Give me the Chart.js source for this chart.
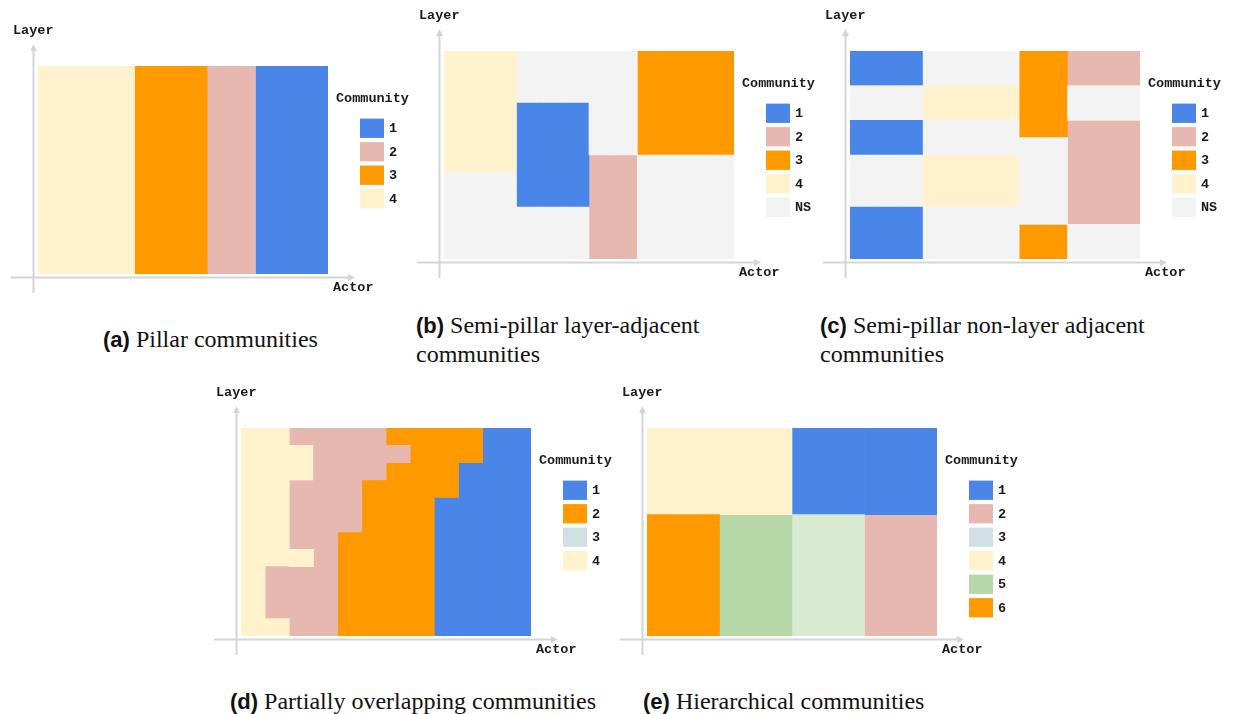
<!DOCTYPE html>
<html>
<head>
<meta charset="utf-8">
<script src="https://cdn.jsdelivr.net/npm/chart.js@4.4.1/dist/chart.umd.min.js"></script>
<style>
  body { margin: 0; width: 1235px; height: 714px; background: #fff; overflow: hidden; position: relative; }
  canvas { position: absolute; }
  .cap { position: absolute; font-family: "Liberation Serif", serif; font-size: 24px; line-height: 29px; color: #111; white-space: nowrap; }
  .cap b { font-family: "Liberation Sans", sans-serif; font-weight: bold; font-size: 22px; }
</style>
</head>
<body>
<canvas id="pa" width="420" height="278" style="left:8px;top:21px"></canvas>
<canvas id="pb" width="420" height="278" style="left:414px;top:6px"></canvas>
<canvas id="pc" width="420" height="278" style="left:820px;top:6px"></canvas>
<canvas id="pd" width="420" height="278" style="left:211px;top:383px"></canvas>
<canvas id="pe" width="420" height="278" style="left:617px;top:383px"></canvas>

<div class="cap" style="left:103px;top:325px"><b>(a)</b> Pillar communities</div>
<div class="cap" style="left:416px;top:311px"><b>(b)</b> Semi-pillar layer-adjacent<br>communities</div>
<div class="cap" style="left:820px;top:311px"><b>(c)</b> Semi-pillar non-layer adjacent<br>communities</div>
<div class="cap" style="left:230px;top:687px"><b>(d)</b> Partially overlapping communities</div>
<div class="cap" style="left:643px;top:687px"><b>(e)</b> Hierarchical communities</div>

<script>
// actors along x, one column each
const actors = ['1', '2', '3', '4', '5', '6', '7', '8', '9', '10', '11', '12'];

// community of every (layer, actor) cell, top layer first; N = not in a community
const gridA = [
  '4444 333 22 111'
];
const gridB = [
  '444 NNN NN 3333',
  '444 NNN NN 3333',
  '444 NNN NN 3333',
  '444 111 NN 3333',
  '444 111 NN 3333',
  '444 111 NN 3333',
  '444 111 22 NNNN',
  'NNN 111 22 NNNN',
  'NNN 111 22 NNNN',
  'NNN NNN 22 NNNN',
  'NNN NNN 22 NNNN',
  'NNN NNN 22 NNNN'
];
const gridC = [
  '111 NNNN 33 222',
  '111 NNNN 33 222',
  'NNN 4444 33 NNN',
  'NNN 4444 33 NNN',
  '111 NNNN 33 222',
  '111 NNNN NN 222',
  'NNN 4444 NN 222',
  'NNN 4444 NN 222',
  'NNN 4444 NN 222',
  '111 NNNN NN 222',
  '111 NNNN 33 NNN',
  '111 NNNN 33 NNN'
];
// P = overlap zone between communities 4 and 2
const gridD = [
  '44PPPP222211',
  '444PPPP22211',
  '444PPP222111',
  '44PPP2222111',
  '44PPP2221111',
  '44PPP2221111',
  '44PP22221111',
  '444P22221111',
  '4PPP22221111',
  '4PPP22221111',
  '4PPP22221111',
  '44PP22221111'
];
const gridE = [
  '444444 111111',
  '444444 111111',
  '444444 111111',
  '444444 111111',
  '444444 111111',
  '666 555 LLL 222',
  '666 555 LLL 222',
  '666 555 LLL 222',
  '666 555 LLL 222',
  '666 555 LLL 222',
  '666 555 LLL 222',
  '666 555 LLL 222'
];

const keysA = ['1', '2', '3', '4'];
const keysB = ['1', '2', '3', '4', 'NS'];
const keysC = ['1', '2', '3', '4', 'NS'];
const keysD = ['1', '2', '3', '4'];
const keysE = ['1', '2', '3', '4', '5', '6'];

const BLUE = '#4a86e8', PINK = '#e6b8af', ORANGE = '#ff9900', CREAM = '#fff2cc', GREY = '#f3f3f3';
const palA = { '1': BLUE, '2': PINK, '3': ORANGE, '4': CREAM };
const palB = { '1': BLUE, '2': PINK, '3': ORANGE, '4': CREAM, 'N': GREY, 'NS': GREY };
const palD = { '1': BLUE, '2': ORANGE, '3': '#d0e0e3', '4': CREAM, 'P': PINK };
const palE = { '1': BLUE, '2': PINK, '3': '#d0e0e3', '4': CREAM, '5': '#b6d7a8', '6': ORANGE, 'L': '#d9ead3' };

// one floating bar per run of equal cells in each actor column
function buildDatasets(rawGrid, pal) {
  const grid = rawGrid.map(s => s.replace(/ /g, ''));
  const rows = grid.length, cols = grid[0].length;
  const sets = {};
  for (let c = 0; c < cols; c++) {
    const seen = {};
    let r = rows - 1;
    while (r >= 0) {
      const code = grid[r][c];
      let top = r;
      while (top - 1 >= 0 && grid[top - 1][c] === code) top--;
      seen[code] = (seen[code] || 0) + 1;
      const key = code + '_' + seen[code];
      if (!sets[key]) {
        sets[key] = {
          label: key,
          data: new Array(cols).fill(null),
          backgroundColor: pal[code],
          grouped: false,
          barPercentage: 1,
          categoryPercentage: 1,
          borderWidth: 0
        };
      }
      sets[key].data[c] = [rows - 1 - r, rows - top];
      r = top - 1;
    }
  }
  return Object.values(sets);
}

const axesAndKey = {
  id: 'axesAndKey',
  afterDraw(chart, args, opts) {
    const ctx = chart.ctx, a = chart.chartArea;
    ctx.save();
    ctx.strokeStyle = '#d5d5d5';
    ctx.fillStyle = '#d5d5d5';
    ctx.lineWidth = 2;
    const ax = a.left - 4.5, ay = a.bottom + 3.5;
    const yTip = a.top - 22, xTip = a.right + 27;
    ctx.beginPath();
    ctx.moveTo(ax, a.bottom + 19);
    ctx.lineTo(ax, yTip + 5);
    ctx.moveTo(a.left - 27, ay);
    ctx.lineTo(xTip - 5, ay);
    ctx.stroke();
    ctx.beginPath();
    ctx.moveTo(ax, yTip);
    ctx.lineTo(ax - 3.5, yTip + 7);
    ctx.lineTo(ax + 3.5, yTip + 7);
    ctx.closePath();
    ctx.moveTo(xTip, ay);
    ctx.lineTo(xTip - 7, ay - 3.5);
    ctx.lineTo(xTip - 7, ay + 3.5);
    ctx.closePath();
    ctx.fill();

    ctx.fillStyle = '#1a1a1a';
    ctx.font = 'bold 13.5px "Liberation Mono", monospace';
    ctx.textBaseline = 'middle';
    ctx.textAlign = 'left';
    ctx.fillText('Layer', a.left - 25, a.top - 35);
    ctx.fillText('Actor', a.right + 5, a.bottom + 14);
    ctx.fillText('Community', a.right + 8, a.top + 33);
    opts.keys.forEach((k, i) => {
      const y = a.top + 52.6 + i * 23.5;
      ctx.fillStyle = opts.palette[k];
      ctx.fillRect(a.right + 32, y, 24, 19.3);
      ctx.fillStyle = '#1a1a1a';
      ctx.fillText(k, a.right + 61, y + 10);
    });
    ctx.restore();
  }
};

function panel(id, grid, pal, keys) {
  new Chart(document.getElementById(id), {
    type: 'bar',
    data: {
      labels: actors,
      datasets: buildDatasets(grid, pal)
    },
    options: {
      responsive: false,
      animation: false,
      layout: { padding: { left: 30, top: 45, right: 100, bottom: 25 } },
      scales: {
        x: { display: false },
        y: { display: false, min: 0, max: grid.length }
      },
      plugins: {
        legend: { display: false },
        tooltip: { enabled: false },
        axesAndKey: { keys: keys, palette: pal }
      }
    },
    plugins: [axesAndKey]
  });
}

panel('pa', gridA, palA, keysA);
panel('pb', gridB, palB, keysB);
panel('pc', gridC, palB, keysC);
panel('pd', gridD, palD, keysD);
panel('pe', gridE, palE, keysE);
</script>
</body>
</html>
